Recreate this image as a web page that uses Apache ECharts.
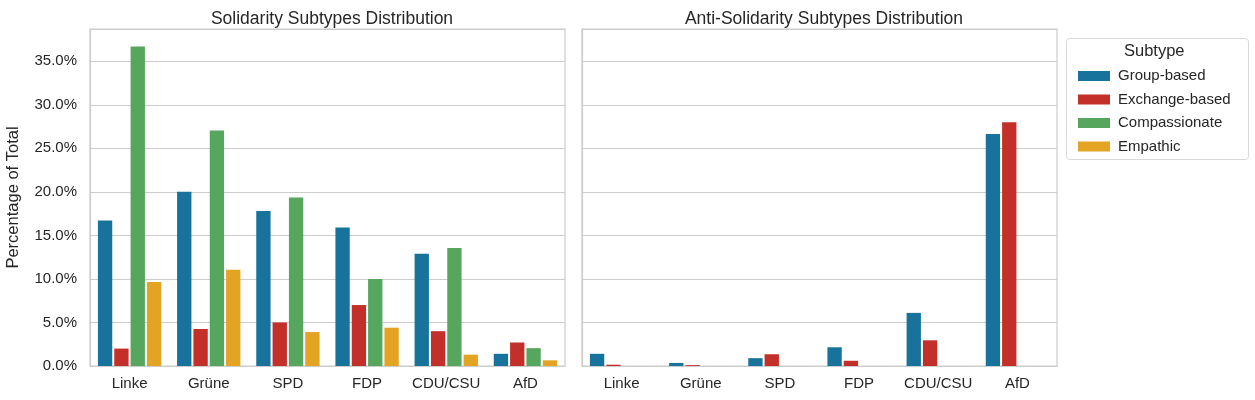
<!DOCTYPE html>
<html>
<head>
<meta charset="utf-8">
<script src="https://cdn.jsdelivr.net/npm/echarts@6/dist/echarts.min.js"></script>
<style>
html,body{margin:0;padding:0;background:#fff;}
#chart{width:1255px;height:400px;}
</style>
</head>
<body>
<div id="chart"></div>
<script>
const categories = ['Linke', 'Grüne', 'SPD', 'FDP', 'CDU/CSU', 'AfD'];
const subtypes = ['Group-based', 'Exchange-based', 'Compassionate', 'Empathic'];
const colors = ['#17739b', '#c3302a', '#56a65e', '#e3a323'];

// Solidarity (left panel), % of total
const solGroup = [16.7, 20.0, 17.8, 15.9, 12.9, 1.4];
const solExchange = [2.0, 4.25, 5.0, 7.0, 4.0, 2.7];
const solCompassionate = [36.7, 27.05, 19.35, 10.0, 13.55, 2.05];
const solEmpathic = [9.65, 11.05, 3.9, 4.4, 1.3, 0.65];

// Anti-solidarity (right panel), % of total
const antiGroup = [1.4, 0.35, 0.9, 2.15, 6.1, 26.65];
const antiExchange = [0.15, 0.1, 1.35, 0.6, 2.95, 28.0];
const antiCompassionate = [0, 0, 0, 0, 0, 0];
const antiEmpathic = [0, 0, 0, 0, 0, 0];

const yTicks = [0, 5, 10, 15, 20, 25, 30, 35];

const FONT = 'Liberation Sans, Arial, sans-serif';
const TXT = '#262626';
const GRIDC = '#cccccc';

const solSeries = [solGroup, solExchange, solCompassionate, solEmpathic];
const antiSeries = [antiGroup, antiExchange, antiCompassionate, antiEmpathic];

function mkX(gi) {
  return {
    type: 'category', gridIndex: gi, data: categories,
    axisLine: {show: true, lineStyle: {color: GRIDC, width: 1.2}},
    axisTick: {show: false},
    axisLabel: {interval: 0, color: TXT, fontSize: 15, fontFamily: FONT, margin: 10},
    splitLine: {show: false}
  };
}
function mkY(gi, showLabels) {
  return {
    type: 'value', gridIndex: gi, min: 0, max: 38.7, interval: 5,
    name: showLabels ? 'Percentage of Total' : '',
    nameLocation: 'middle', nameGap: 68,
    nameTextStyle: {color: TXT, fontSize: 16.5, fontFamily: FONT},
    axisLine: {show: true, lineStyle: {color: GRIDC, width: 1.2}},
    axisTick: {show: false},
    axisLabel: {
      show: showLabels, color: TXT, fontSize: 15, fontFamily: FONT, margin: 13,
      formatter: v => yTicks.indexOf(v) >= 0 ? v.toFixed(1) + '%' : ''
    },
    splitLine: {show: true, lineStyle: {color: GRIDC, width: 1.2}}
  };
}

const series = [];
subtypes.forEach((name, i) => {
  series.push({
    name, type: 'bar', xAxisIndex: 0, yAxisIndex: 0, data: solSeries[i],
    itemStyle: {color: colors[i]},
    barGap: '14%', barCategoryGap: '20%', emphasis: {disabled: true}
  });
});
subtypes.forEach((name, i) => {
  series.push({
    name, type: 'bar', xAxisIndex: 1, yAxisIndex: 1, data: antiSeries[i],
    itemStyle: {color: colors[i]},
    barGap: '14%', barCategoryGap: '20%', emphasis: {disabled: true}
  });
});

const chart = echarts.init(document.getElementById('chart'), null, {renderer: 'canvas'});
chart.setOption({
  animation: false,
  backgroundColor: '#fff',
  title: [
    {text: 'Solidarity Subtypes Distribution', left: 327, top: 5, textAlign: 'center',
     textStyle: {color: TXT, fontSize: 17.5, fontWeight: 'normal', fontFamily: FONT}},
    {text: 'Anti-Solidarity Subtypes Distribution', left: 819, top: 5, textAlign: 'center',
     textStyle: {color: TXT, fontSize: 17.5, fontWeight: 'normal', fontFamily: FONT}}
  ],
  grid: [
    {left: 90, top: 29, width: 475, bottom: 34, show: true, borderColor: GRIDC, borderWidth: 1.2, backgroundColor: 'transparent'},
    {left: 582, top: 29, width: 475, bottom: 34, show: true, borderColor: GRIDC, borderWidth: 1.2, backgroundColor: 'transparent'}
  ],
  xAxis: [mkX(0), mkX(1)],
  yAxis: [mkY(0, true), mkY(1, false)],
  legend: {
    data: subtypes, orient: 'vertical', left: 1073, top: 63,
    itemWidth: 32, itemHeight: 10, itemGap: 7.5,
    icon: 'rect', selectedMode: false,
    textStyle: {color: TXT, fontSize: 15, fontFamily: FONT, lineHeight: 16, padding: [0, 0, 0, 3]}
  },
  graphic: [
    {type: 'rect', left: 1066, top: 38, shape: {width: 182, height: 121, r: 3},
     style: {fill: '#fff', stroke: '#d9d9d9', lineWidth: 1}, z: -1},
    {type: 'text', left: 1124, top: 43, style: {text: 'Subtype', fill: TXT, font: '16.5px ' + FONT}}
  ],
  series
});
</script>
</body>
</html>
